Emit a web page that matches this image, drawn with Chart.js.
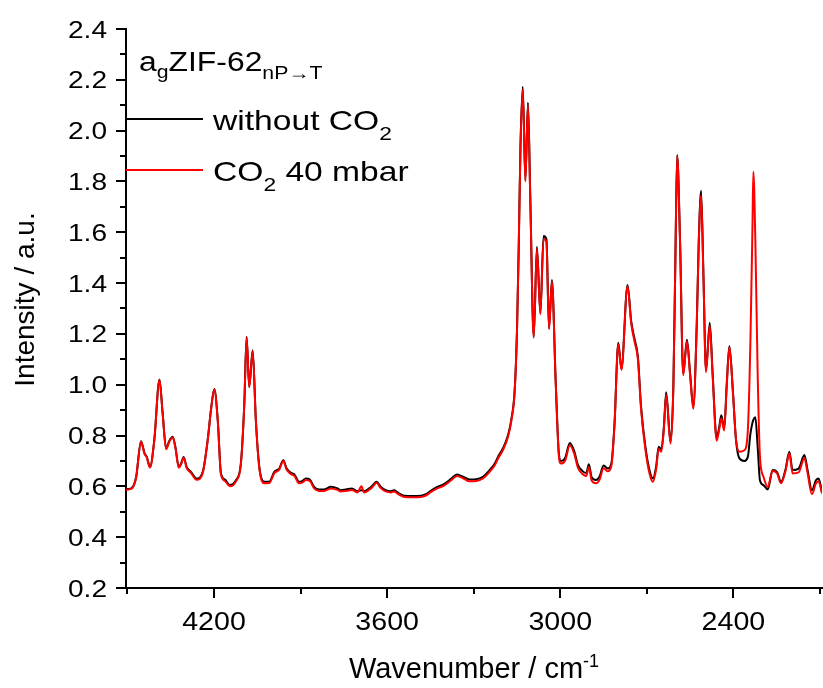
<!DOCTYPE html>
<html>
<head>
<meta charset="utf-8">
<title>agZIF-62 spectrum</title>
<script src="https://cdn.jsdelivr.net/npm/chart.js@4.4.1/dist/chart.umd.min.js"></script>
<style>
  html, body { margin: 0; padding: 0; background: #fff; }
  #wrap { width: 823px; height: 688px; }
</style>
</head>
<body>
<div id="wrap"><canvas id="spectrum" width="823" height="688"></canvas></div>
<script>
// --- Spectrum data (wavenumber in cm-1, intensity in a.u.) ---
const wavenumbers = [
  4505, 4487, 4470, 4453, 4441, 4433, 4422, 4407, 4389, 4378,
  4366, 4355, 4343, 4334, 4322, 4314, 4305, 4295, 4280, 4260,
  4239, 4222, 4210, 4199, 4187, 4176, 4162, 4145, 4124, 4107,
  4095, 4087, 4078, 4066, 4055, 4043, 4026, 4009, 3991, 3974,
  3960, 3948, 3933, 3922, 3905, 3893, 3882, 3868, 3853, 3836,
  3818, 3795, 3772, 3761, 3743, 3722, 3703, 3689, 3680, 3662,
  3649, 3637, 3622, 3605, 3587, 3576, 3559, 3541, 3512, 3483,
  3466, 3449, 3426, 3403, 3377, 3358, 3337, 3314, 3291, 3268,
  3245, 3227, 3216, 3199, 3181, 3170, 3158, 3150, 3144, 3138,
  3130, 3121, 3112, 3104, 3092, 3081, 3069, 3058, 3048, 3039,
  3029, 3016, 3005, 2998, 2983, 2967, 2952, 2939, 2923, 2910,
  2901, 2891, 2876, 2864, 2850, 2835, 2823, 2812, 2799, 2788,
  2767, 2754, 2743, 2731, 2720, 2705, 2691, 2679, 2668, 2659,
  2650, 2641, 2633, 2618, 2608, 2601, 2595, 2585, 2574, 2561,
  2550, 2539, 2527, 2520, 2512, 2504, 2495, 2482, 2472, 2458,
  2449, 2442, 2432, 2423, 2414, 2402, 2391, 2379, 2362, 2350,
  2341, 2334, 2331, 2324, 2316, 2308, 2296, 2281, 2264, 2249,
  2235, 2220, 2206, 2195, 2174, 2154, 2143, 2128, 2114, 2105,
  2093
];

const withoutCO2 = [
  0.589, 0.592, 0.636, 0.778, 0.731, 0.716, 0.677, 0.782, 1.021, 0.888,
  0.749, 0.779, 0.795, 0.756, 0.677, 0.690, 0.716, 0.677, 0.657, 0.631,
  0.657, 0.782, 0.907, 0.983, 0.861, 0.652, 0.627, 0.605, 0.624, 0.690,
  0.926, 1.189, 0.992, 1.136, 0.861, 0.677, 0.618, 0.618, 0.657, 0.670,
  0.703, 0.670, 0.653, 0.648, 0.618, 0.622, 0.631, 0.627, 0.598, 0.588,
  0.588, 0.598, 0.592, 0.585, 0.588, 0.592, 0.581, 0.585, 0.581, 0.592,
  0.605, 0.618, 0.598, 0.585, 0.581, 0.585, 0.572, 0.563, 0.562, 0.563,
  0.569, 0.582, 0.598, 0.609, 0.631, 0.647, 0.638, 0.627, 0.628, 0.638,
  0.664, 0.690, 0.716, 0.749, 0.802, 0.861, 0.979, 1.215, 1.543, 1.937,
  2.173, 1.806, 2.110, 1.740, 1.189, 1.543, 1.281, 1.585, 1.572, 1.222,
  1.412, 1.018, 0.730, 0.700, 0.712, 0.771, 0.740, 0.685, 0.660, 0.653,
  0.687, 0.635, 0.625, 0.638, 0.682, 0.670, 0.690, 0.848, 1.165, 1.064,
  1.392, 1.248, 1.182, 1.110, 0.913, 0.756, 0.664, 0.631, 0.677, 0.756,
  0.745, 0.834, 0.970, 0.775, 1.000, 1.504, 1.904, 1.569, 1.044, 1.177,
  1.044, 0.913, 1.241, 1.570, 1.763, 1.438, 1.057, 1.244, 1.044, 0.789,
  0.835, 0.880, 0.828, 1.005, 1.152, 0.979, 0.782, 0.710, 0.700, 0.716,
  0.808, 0.850, 0.862, 0.872, 0.756, 0.624, 0.605, 0.588, 0.664, 0.657,
  0.618, 0.664, 0.736, 0.664, 0.670, 0.723, 0.664, 0.585, 0.624, 0.631,
  0.578
];

const withCO2 = [
  0.587, 0.590, 0.634, 0.776, 0.729, 0.714, 0.674, 0.780, 1.019, 0.886,
  0.746, 0.776, 0.792, 0.753, 0.673, 0.687, 0.713, 0.673, 0.653, 0.626,
  0.653, 0.780, 0.905, 0.981, 0.858, 0.647, 0.621, 0.600, 0.620, 0.686,
  0.924, 1.186, 0.990, 1.132, 0.858, 0.672, 0.612, 0.613, 0.652, 0.666,
  0.700, 0.665, 0.648, 0.642, 0.612, 0.616, 0.625, 0.621, 0.592, 0.582,
  0.582, 0.592, 0.586, 0.580, 0.582, 0.586, 0.576, 0.600, 0.576, 0.587,
  0.600, 0.614, 0.593, 0.580, 0.576, 0.580, 0.567, 0.558, 0.557, 0.558,
  0.564, 0.577, 0.592, 0.603, 0.625, 0.641, 0.632, 0.620, 0.621, 0.631,
  0.657, 0.683, 0.709, 0.742, 0.795, 0.855, 0.974, 1.210, 1.538, 1.930,
  2.162, 1.800, 2.100, 1.735, 1.185, 1.535, 1.277, 1.574, 1.562, 1.218,
  1.405, 1.012, 0.722, 0.690, 0.702, 0.762, 0.730, 0.674, 0.649, 0.641,
  0.676, 0.622, 0.612, 0.626, 0.671, 0.659, 0.680, 0.842, 1.160, 1.058,
  1.388, 1.240, 1.172, 1.100, 0.903, 0.745, 0.652, 0.618, 0.666, 0.748,
  0.736, 0.826, 0.960, 0.768, 0.995, 1.500, 1.900, 1.565, 1.038, 1.170,
  1.036, 0.905, 1.235, 1.562, 1.745, 1.430, 1.050, 1.232, 1.036, 0.780,
  0.826, 0.868, 0.820, 1.000, 1.148, 0.975, 0.785, 0.736, 0.742, 0.821,
  1.176, 1.620, 1.838, 1.569, 1.046, 0.716, 0.638, 0.598, 0.660, 0.652,
  0.612, 0.658, 0.730, 0.651, 0.655, 0.712, 0.652, 0.569, 0.612, 0.620,
  0.572
];

// --- Axis ticks ---
const xMajorTicks = [4200, 3600, 3000, 2400];
const xMinorTicks = [4500, 3900, 3300, 2700, 2100];
const yMajorTicks = [0.2, 0.4, 0.6, 0.8, 1.0, 1.2, 1.4, 1.6, 1.8, 2.0, 2.2, 2.4];
const yMinorTicks = [0.3, 0.5, 0.7, 0.9, 1.1, 1.3, 1.5, 1.7, 1.9, 2.1, 2.3];
const yTickLabels = ['0.2', '0.4', '0.6', '0.8', '1.0', '1.2', '1.4', '1.6', '1.8', '2.0', '2.2', '2.4'];

const FONT = '"Liberation Sans", Arial, sans-serif';

// --- Text helpers (horizontally stretched text, sub/superscript runs) ---
function stretchedText(ctx, str, x, y, size, sx, align) {
  ctx.save();
  ctx.font = size + 'px ' + FONT;
  const w = ctx.measureText(str).width * sx;
  let left = x;
  if (align === 'right') left = x - w;
  else if (align === 'center') left = x - w / 2;
  ctx.translate(left, y);
  ctx.scale(sx, 1);
  ctx.textAlign = 'left';
  ctx.textBaseline = 'alphabetic';
  ctx.fillText(str, 0, 0);
  ctx.restore();
  return w;
}

function runsWidth(ctx, runs, sx) {
  let w = 0;
  runs.forEach(r => {
    ctx.font = r.size + 'px ' + FONT;
    w += ctx.measureText(r.text).width * sx;
  });
  return w;
}

function drawRuns(ctx, runs, x, y, sx) {
  let cx = x;
  runs.forEach(r => {
    cx += stretchedText(ctx, r.text, cx, y + (r.dy || 0), r.size, sx, 'left');
  });
  return cx - x;
}

function line(ctx, x1, y1, x2, y2) {
  ctx.beginPath();
  ctx.moveTo(x1, y1);
  ctx.lineTo(x2, y2);
  ctx.stroke();
}

// --- Plugin: background, tick marks, labels, titles and legend ---
const axisDecor = {
  id: 'axisDecor',
  beforeDraw(chart) {
    const ctx = chart.ctx;
    ctx.save();
    ctx.fillStyle = '#ffffff';
    ctx.fillRect(0, 0, chart.width, chart.height);
    ctx.restore();
  },
  afterDraw(chart) {
    const ctx = chart.ctx;
    const xs = chart.scales.x;
    const ys = chart.scales.y;
    const area = chart.chartArea;
    ctx.save();
    ctx.strokeStyle = '#000';
    ctx.fillStyle = '#000';
    ctx.lineWidth = 2;

    // tick marks, pointing outward
    xMajorTicks.forEach(v => {
      const px = Math.round(xs.getPixelForValue(v));
      line(ctx, px, area.bottom, px, area.bottom + 10);
    });
    xMinorTicks.forEach(v => {
      const px = Math.round(xs.getPixelForValue(v));
      line(ctx, px, area.bottom, px, area.bottom + 6);
    });
    yMajorTicks.forEach(v => {
      const py = Math.round(ys.getPixelForValue(v));
      line(ctx, area.left, py, area.left - 10, py);
    });
    yMinorTicks.forEach(v => {
      const py = Math.round(ys.getPixelForValue(v));
      line(ctx, area.left, py, area.left - 6, py);
    });

    // tick labels
    yMajorTicks.forEach((v, i) => {
      const py = ys.getPixelForValue(v);
      stretchedText(ctx, yTickLabels[i], area.left - 19, py + 8.5, 24, 1.17, 'right');
    });
    xMajorTicks.forEach(v => {
      const px = xs.getPixelForValue(v);
      stretchedText(ctx, String(v), px, area.bottom + 42, 26, 1.1, 'center');
    });

    // x axis title with superscript
    const xTitle = [
      { text: 'Wavenumber / cm', size: 29 },
      { text: '-1', size: 18, dy: -11 }
    ];
    const xw = runsWidth(ctx, xTitle, 1);
    drawRuns(ctx, xTitle, (area.left + area.right) / 2 - xw / 2, area.bottom + 90, 1);

    // y axis title, rotated
    ctx.save();
    ctx.translate(34, (area.top + area.bottom) / 2 - 9);
    ctx.rotate(-Math.PI / 2);
    stretchedText(ctx, 'Intensity / a.u.', 0, 0, 28, 1, 'center');
    ctx.restore();

    // legend block
    const legTitle = [
      { text: 'a', size: 27 },
      { text: 'g', size: 18, dy: 7 },
      { text: 'ZIF-62', size: 27 },
      { text: 'nP\u2192T', size: 18, dy: 8 }
    ];
    drawRuns(ctx, legTitle, area.left + 13, area.top + 42, 1.18);

    const entries = [
      { color: chart.data.datasets[0].borderColor, y: area.top + 90,
        runs: [{ text: 'without CO', size: 28 }, { text: '2', size: 19, dy: 10 }] },
      { color: chart.data.datasets[1].borderColor, y: area.top + 141,
        runs: [{ text: 'CO', size: 28 }, { text: '2', size: 19, dy: 10 }, { text: ' 40 mbar', size: 28 }] }
    ];
    entries.forEach(e => {
      ctx.strokeStyle = e.color;
      line(ctx, area.left, e.y, area.left + 77, e.y);
      ctx.fillStyle = '#000';
      drawRuns(ctx, e.runs, area.left + 87, e.y + 11, 1.2);
    });
    ctx.restore();
  }
};

const toPoints = values => wavenumbers.map((w, i) => ({ x: w, y: values[i] }));

new Chart(document.getElementById('spectrum').getContext('2d'), {
  type: 'line',
  data: {
    datasets: [
      {
        label: 'without CO2',
        data: toPoints(withoutCO2),
        borderColor: '#000000',
        borderWidth: 2,
        pointRadius: 0,
        cubicInterpolationMode: 'monotone',
        order: 2
      },
      {
        label: 'CO2 40 mbar',
        data: toPoints(withCO2),
        borderColor: '#ff0000',
        borderWidth: 2,
        pointRadius: 0,
        cubicInterpolationMode: 'monotone',
        order: 1
      }
    ]
  },
  options: {
    responsive: false,
    animation: false,
    devicePixelRatio: 1,
    layout: { padding: { left: 126, top: 29, right: 1, bottom: 100 } },
    plugins: { legend: { display: false }, tooltip: { enabled: false } },
    scales: {
      x: {
        type: 'linear',
        reverse: true,
        min: 2093,
        max: 4505,
        ticks: { display: false },
        grid: { display: false, drawTicks: false, tickLength: 0 },
        border: { display: true, color: '#000', width: 2 }
      },
      y: {
        min: 0.2,
        max: 2.4,
        ticks: { display: false },
        grid: { display: false, drawTicks: false, tickLength: 0 },
        border: { display: true, color: '#000', width: 2 }
      }
    }
  },
  plugins: [axisDecor]
});
</script>
</body>
</html>
